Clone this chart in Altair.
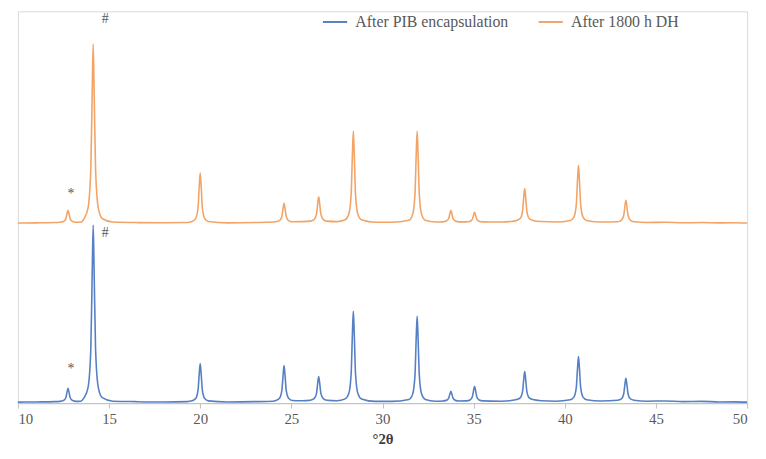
import altair as alt
import pandas as pd

# 2-theta positions (degrees)
two_theta = [10.0, 11.0, 12.0,
             12.30, 12.50, 12.63, 12.70, 12.75, 12.80, 12.87, 13.00, 13.20,
             13.45,
             13.63, 13.85, 14.00, 14.08, 14.13, 14.18, 14.26, 14.41, 14.63,
             15.2, 16.5, 18.0, 19.3,
             19.55, 19.75, 19.88, 19.95, 20.0, 20.05, 20.12, 20.25, 20.45,
             21.5, 23.0, 24.0,
             24.15, 24.35, 24.48, 24.55, 24.6, 24.65, 24.72, 24.85, 25.05,
             25.6,
             26.05, 26.25, 26.38, 26.45, 26.5, 26.55, 26.62, 26.75, 26.95,
             27.5,
             27.95, 28.15, 28.28, 28.35, 28.4, 28.45, 28.52, 28.65, 28.85,
             29.6, 30.5,
             31.45, 31.65, 31.78, 31.85, 31.9, 31.95, 32.02, 32.15, 32.35,
             32.9,
             33.3, 33.5, 33.63, 33.7, 33.75, 33.8, 33.87, 34.0, 34.2,
             34.6, 34.8, 34.93, 35.0, 35.05, 35.1, 35.17, 35.3, 35.5,
             36.5, 37.0,
             37.35, 37.55, 37.68, 37.75, 37.8, 37.85, 37.92, 38.05, 38.25,
             38.7, 39.5,
             40.3, 40.5, 40.63, 40.7, 40.75, 40.8, 40.87, 41.0, 41.2,
             42.0,
             42.9, 43.1, 43.23, 43.3, 43.35, 43.4, 43.47, 43.6, 43.8,
             44.5, 45.5, 46.5, 47.5, 48.5, 49.3, 50.0]

# intensities (arbitrary units), "After PIB encapsulation"
after_pib = [1, 1.2, 1.5,
             1.8, 2.6, 5.5, 11.6, 15, 11.6, 5.5, 2.6, 1.8,
             2,
             5.5, 16, 55, 135, 180, 135, 55, 16, 5.5,
             2, 1.5, 1.2, 1.5,
             2.3, 4.6, 13, 30.4, 40, 30.4, 13, 4.6, 2.3,
             1.2, 1.5, 2,
             2.7, 4.9, 12.8, 29, 38, 29, 12.8, 4.9, 2.7,
             2.5,
             3, 4.5, 9.9, 20.9, 27, 20.9, 9.9, 4.5, 3,
             2.5,
             4.3, 9.7, 29.7, 70.4, 93, 70.4, 29.7, 9.7, 4.3,
             1.8, 1.8,
             3.7, 8.9, 27.8, 66.5, 88, 66.5, 27.8, 8.9, 3.7,
             2,
             2.2, 2.8, 5, 9.5, 12, 9.5, 5, 2.8, 2.2,
             2.3, 3.2, 6.5, 13.3, 17, 13.3, 6.5, 3.2, 2.3,
             2, 2.5,
             3.6, 5.3, 11.7, 24.8, 32, 24.8, 11.7, 5.3, 3.6,
             2.5, 2,
             3.4, 6.1, 15.9, 35.9, 47, 35.9, 15.9, 6.1, 3.4,
             2.2,
             3, 4.3, 9.3, 19.4, 25, 19.4, 9.3, 4.3, 3,
             2, 2.2, 1.5, 1.8, 1.2, 1.3, 1]

# intensities (arbitrary units, offset), "After 1800 h DH"
after_dh = [182, 182.2, 182.5,
            182.8, 183.5, 186.3, 191.9, 195, 191.9, 186.3, 183.5, 182.8,
            183,
            186.6, 197.4, 237, 318, 363, 318, 237, 197.4, 186.6,
            183, 182.5, 182.3, 182.5,
            183.5, 186.5, 197.5, 220, 232.5, 220, 197.5, 186.5, 183.5,
            182.2, 182.5, 183,
            183.4, 184.5, 188.7, 197.3, 202, 197.3, 188.7, 184.5, 183.4,
            183.5,
            184, 185.5, 191, 202.3, 208.5, 202.3, 191, 185.5, 184,
            183.5,
            185.3, 190.8, 211, 252, 275, 252, 211, 190.8, 185.3,
            182.8, 182.8,
            184.8, 190.4, 210.6, 252, 275, 252, 210.6, 190.4, 184.8,
            183,
            183.2, 184, 186.6, 192, 195, 192, 186.6, 184, 183.2,
            183.2, 183.8, 186, 190.5, 193, 190.5, 186, 183.8, 183.2,
            183, 183.5,
            184.7, 186.6, 193.9, 208.8, 217, 208.8, 193.9, 186.6, 184.7,
            183.5, 183,
            184.6, 188.1, 200.6, 226.3, 240.5, 226.3, 200.6, 188.1, 184.6,
            183,
            183.4, 184.8, 189.6, 199.5, 205, 199.5, 189.6, 184.8, 183.4,
            182.6, 182.8, 182.3, 182.5, 182.2, 182.3, 182]

series_names = ["After PIB encapsulation", "After 1800 h DH"]
series_colors = ["#5680c4", "#f2a467"]

# peak markers
mark_text = ["#", "*", "#", "*"]
mark_x = [14.6, 12.72, 14.6, 12.72]
mark_y = [388, 211, 172, 34]

assert len(two_theta) == len(after_pib) == len(after_dh)

rows = []
for x, a, b in zip(two_theta, after_pib, after_dh):
    rows.append({"x": x, "y": a, "s": series_names[0]})
    rows.append({"x": x, "y": b, "s": series_names[1]})
df = pd.DataFrame(rows)

ann = pd.DataFrame({"x": mark_x, "y": mark_y, "t": mark_text})

serif = "Liberation Serif"

xscale = alt.Scale(domain=[10, 50], nice=False, zero=False)
yscale = alt.Scale(domain=[0, 396], nice=False, zero=False)

lines = alt.Chart(df).mark_line(strokeWidth=1.6, interpolate="monotone").encode(
    x=alt.X("x:Q", scale=xscale,
            axis=alt.Axis(values=[10, 15, 20, 25, 30, 35, 40, 45, 50], grid=False,
                          labelPadding=4, tickSize=5, tickColor="#bfbfbf",
                          domainColor="#bfbfbf", title="°2θ", titlePadding=5)),
    y=alt.Y("y:Q", scale=yscale, axis=None),
    color=alt.Color("s:N", sort=series_names,
                    scale=alt.Scale(domain=series_names, range=series_colors),
                    legend=alt.Legend(title=None, orient="none", legendX=307, legendY=-3,
                                      direction="horizontal", symbolType="stroke",
                                      symbolStrokeWidth=2, symbolSize=600,
                                      labelOffset=7, columnPadding=26, padding=0)),
    order=alt.Order("x:Q"),
)

marks = alt.Chart(ann).mark_text(font=serif, fontSize=14, color="#595959", align="left",
                                 baseline="middle").encode(
    x=alt.X("x:Q", scale=xscale),
    y=alt.Y("y:Q", scale=yscale),
    text="t:N",
)

chart = (lines + marks).properties(
    width=737, height=396,
    autosize=alt.AutoSizeParams(type="none"),
    padding={"left": 10, "top": 1, "right": 11, "bottom": 46},
).configure(
    background="white", font=serif
).configure_view(
    stroke="#d9d9d9", strokeWidth=1
).configure_axis(
    labelFont=serif, labelFontSize=15, labelColor="#595959",
    titleFont=serif, titleFontSize=15, titleFontWeight="bold", titleColor="#404040",
).configure_legend(
    labelFont=serif, labelFontSize=16, labelColor="#595959",
)

chart.save("out.html", embed_options={"renderer": "svg", "actions": False})
